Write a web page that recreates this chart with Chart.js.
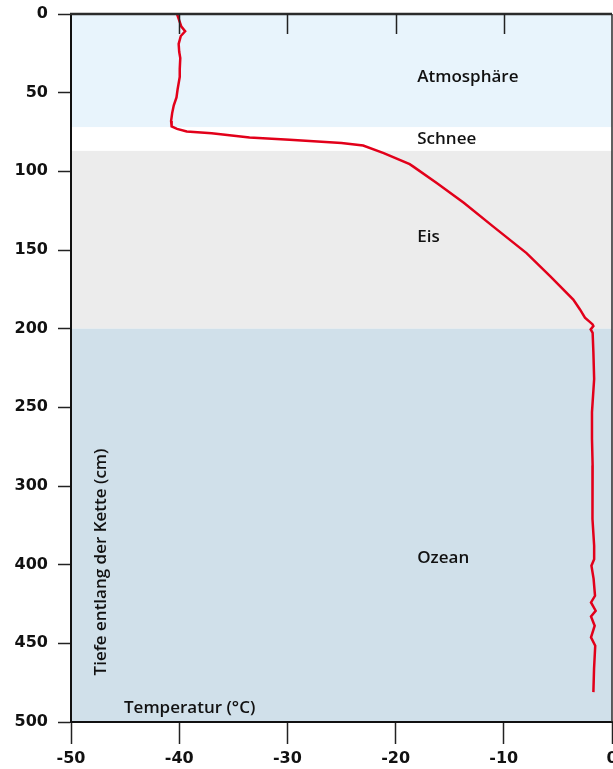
<!DOCTYPE html>
<html>
<head>
<meta charset="utf-8">
<script src="https://cdn.jsdelivr.net/npm/chart.js@4/dist/chart.umd.min.js"></script>
<style>
  html, body { margin: 0; padding: 0; background: #fff; overflow: hidden; }
  #wrap { width: 630px; height: 769px; }
</style>
</head>
<body>
<div id="wrap"><canvas id="chart" width="630" height="769"></canvas></div>
<script>
// Temperature profile along the sensor chain (depth in cm, temperature in °C)
const depthCm = [
  0, 4, 8, 11, 14, 19, 24, 28, 35, 40, 48, 53, 58, 63, 68, 71.5,
  73, 74.7, 75.8, 78.5, 80, 82, 83.6, 88.4, 95.4, 97, 107.4, 120,
  135, 152, 166.7, 181.5, 187.8, 193, 197.3, 198.4, 200.5, 202.6,
  215, 232, 253, 270, 287, 308, 342, 376, 393, 400.7, 409, 419.8,
  424, 429.3, 432.9, 438.8, 446.2, 451.5, 466.3, 481
];
const temperatureC = [
  -40.2, -40.0, -39.8, -39.45, -39.85, -40.05, -40.0, -39.9, -39.95, -39.95,
  -40.15, -40.25, -40.5, -40.65, -40.75, -40.7,
  -40.2, -39.3, -37.0, -33.5, -29.8, -25.0, -23.0, -21.1, -18.7, -18.36,
  -16.2, -13.7, -11.0, -7.9, -5.7, -3.58, -2.96, -2.5, -1.79, -1.72, -1.97,
  -1.79, -1.72, -1.65, -1.85, -1.85, -1.79, -1.82, -1.79, -1.65, -1.65,
  -1.9, -1.7, -1.57, -1.94, -1.51, -1.94, -1.6, -1.94, -1.55, -1.66, -1.72
];

// Layers of the profile (depth ranges in cm)
const layerNames   = ['Atmosphäre', 'Schnee', 'Eis', 'Ozean'];
const layerTops    = [0, 72, 87, 200];
const layerBottoms = [72, 87, 200, 500];
const layerColors  = ['#e8f4fc', '#ffffff', '#ececec', '#d0e0ea'];
// Label anchors: [temperature, depth]
const layerLabelAt = [[-18.0, 40], [-18.0, 79.5], [-18.0, 142], [-18.0, 392]];

// Axis ticks; the depth ticks are evenly spaced on the printed axis
const xTickValues = [-50, -40, -30, -20, -10, 0];
const yTickValues = [0, 50, 100, 150, 200, 250, 300, 400, 450, 500];

const xTitle = 'Temperatur (°C)';
const yTitle = 'Tiefe entlang der Kette (cm)';

const labelFont = '600 17px "Open Sans", sans-serif';
const tickFont = { family: 'DejaVu Sans', size: 16, weight: 'bold' };

const profilePoints = depthCm.map((d, i) => ({ x: temperatureC[i], y: d }));

// Depth axis whose ticks sit at equal spacing, with values interpolated
// linearly between neighbouring ticks.
class TickSpacedScale extends Chart.LinearScale {
  getPixelForValue(value) {
    const t = yTickValues;
    const n = t.length - 1;
    let i = 0;
    while (i < n - 1 && value > t[i + 1]) i++;
    const frac = (i + (value - t[i]) / (t[i + 1] - t[i])) / n;
    return this.getPixelForDecimal(frac);
  }
}
TickSpacedScale.id = 'tickSpaced';
TickSpacedScale.defaults = Chart.LinearScale.defaults;
Chart.register(TickSpacedScale);

const layersPlugin = {
  id: 'layers',
  beforeDraw(chart) {
    const { ctx, chartArea: a, scales: { y } } = chart;
    ctx.save();
    ctx.fillStyle = '#fff';
    ctx.fillRect(0, 0, chart.width, chart.height);
    layerTops.forEach((top, i) => {
      const y0 = y.getPixelForValue(top);
      const y1 = y.getPixelForValue(layerBottoms[i]);
      ctx.fillStyle = layerColors[i];
      ctx.fillRect(a.left, y0, a.right - a.left, y1 - y0);
    });
    ctx.restore();
  },
  afterDatasetsDraw(chart) {
    const { ctx, chartArea: a, scales: { x, y } } = chart;
    ctx.save();
    // frame: top and right edges
    ctx.strokeStyle = '#2b2b2b';
    ctx.lineWidth = 2.5;
    ctx.beginPath();
    ctx.moveTo(a.left - 1, a.top);
    ctx.lineTo(a.right, a.top);
    ctx.stroke();
    ctx.lineWidth = 1.5;
    ctx.beginPath();
    ctx.moveTo(a.right, a.top);
    ctx.lineTo(a.right, a.bottom);
    ctx.stroke();
    // inward ticks along the top edge
    ctx.strokeStyle = '#222';
    xTickValues.slice(1, -1).forEach(v => {
      const px = Math.round(x.getPixelForValue(v)) + 0.5;
      ctx.beginPath();
      ctx.moveTo(px, a.top);
      ctx.lineTo(px, a.top + 20);
      ctx.stroke();
    });
    // layer names
    ctx.fillStyle = '#111';
    ctx.font = labelFont;
    ctx.textAlign = 'left';
    ctx.textBaseline = 'middle';
    layerNames.forEach((name, i) => {
      const [t, d] = layerLabelAt[i];
      ctx.fillText(name, x.getPixelForValue(t), y.getPixelForValue(d));
    });
    // axis titles inside the plot
    ctx.textBaseline = 'alphabetic';
    ctx.fillText(xTitle, a.left + 53, a.bottom - 9);
    ctx.save();
    ctx.translate(a.left + 30, a.bottom - 160);
    ctx.rotate(-Math.PI / 2);
    ctx.textAlign = 'center';
    ctx.textBaseline = 'middle';
    ctx.fillText(yTitle, 0, 0);
    ctx.restore();
    ctx.restore();
  }
};

new Chart(document.getElementById('chart'), {
  type: 'scatter',
  data: {
    datasets: [{
      data: profilePoints,
      showLine: true,
      borderColor: '#e2001a',
      borderWidth: 2.5,
      pointRadius: 0,
      tension: 0,
      fill: false
    }]
  },
  options: {
    responsive: false,
    animation: false,
    devicePixelRatio: 1,
    layout: { padding: { top: 14, right: 18, left: 0, bottom: 0 } },
    plugins: { legend: { display: false }, tooltip: { enabled: false } },
    scales: {
      x: {
        type: 'linear',
        min: -50,
        max: 0,
        afterFit(scale) {
          scale.height = 47;
          scale.paddingLeft = 0;
          scale.paddingRight = 0;
        },
        afterBuildTicks(scale) { scale.ticks = xTickValues.map(v => ({ value: v })); },
        ticks: { font: tickFont, color: '#111', padding: 5, maxRotation: 0 },
        grid: { drawOnChartArea: false, tickLength: 22, tickColor: '#222', tickWidth: 1.5 },
        border: { color: '#111', width: 2 }
      },
      y: {
        type: 'tickSpaced',
        reverse: true,
        min: 0,
        max: 500,
        afterFit(scale) {
          scale.width = 71;
          scale.paddingTop = 0;
          scale.paddingBottom = 0;
        },
        afterBuildTicks(scale) { scale.ticks = yTickValues.map(v => ({ value: v })); },
        ticks: { font: tickFont, color: '#111', padding: 10 },
        grid: { drawOnChartArea: false, tickLength: 13, tickColor: '#222', tickWidth: 1.5 },
        border: { color: '#111', width: 2 }
      }
    }
  },
  plugins: [layersPlugin]
});
</script>
</body>
</html>
